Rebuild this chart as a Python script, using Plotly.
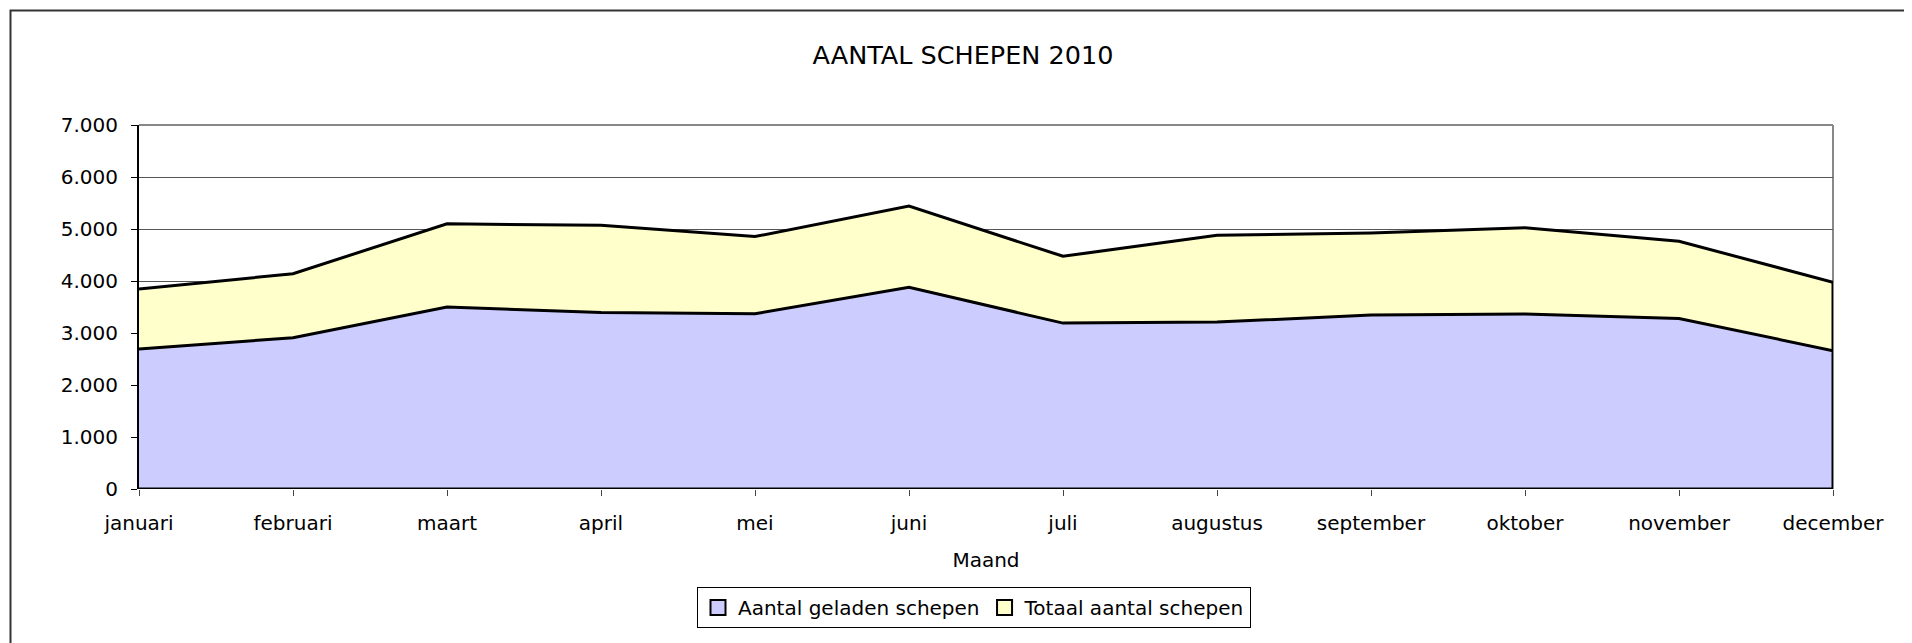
import plotly.graph_objects as go

months = ["januari", "februari", "maart", "april", "mei", "juni", "juli",
          "augustus", "september", "oktober", "november", "december"]
loaded = [2690, 2910, 3500, 3395, 3370, 3880, 3190, 3210, 3345, 3365, 3280, 2660]
total = [3845, 4140, 5100, 5070, 4855, 5440, 4475, 4880, 4925, 5025, 4765, 3975]
series_names = ["Aantal geladen schepen", "Totaal aantal schepen"]
colors = ["#CCCCFF", "#FFFFCC"]
y_ticks = [0, 1000, 2000, 3000, 4000, 5000, 6000, 7000]

# the page body has an 8px margin; work in page pixels and convert
OFF = 8
PAGE_W, PAGE_H = 1912, 643
W, H = PAGE_W - OFF, PAGE_H - OFF
PL, PR, PT, PB = 139, 1833, 125, 489   # plot area in page pixels
L, T = PL - OFF, PT - OFF
R, B = W - (PR - OFF), H - (PB - OFF)
PW, PH = PR - PL, PB - PT

def px_to_paper_x(px):
    return (px - PL) / PW

def px_to_paper_y(py):
    return (PB - py) / PH

FONT = "DejaVu Sans"

fig = go.Figure()

poly_x = months + [months[-1], months[0]]
fig.add_trace(go.Scatter(
    x=poly_x, y=total + [0, 0], fill="toself", fillcolor=colors[1],
    mode="lines", line=dict(color="black", width=3), showlegend=False,
    hoverinfo="skip"))
fig.add_trace(go.Scatter(
    x=poly_x, y=loaded + [0, 0], fill="toself", fillcolor=colors[0],
    mode="lines", line=dict(color="black", width=3), showlegend=False,
    hoverinfo="skip"))

for name, c in zip(series_names, colors):
    fig.add_trace(go.Scatter(
        x=[None], y=[None], mode="markers", name=name,
        marker=dict(symbol="square", size=15, color=c,
                    line=dict(color="black", width=2))))

shapes = [
    dict(type="line", xref="paper", yref="paper", x0=0, x1=1, y0=1, y1=1,
         line=dict(color="#888888", width=2), layer="below"),
    dict(type="line", xref="paper", yref="paper", x0=1, x1=1, y0=0, y1=1,
         line=dict(color="#888888", width=2), layer="below"),
    dict(type="path", xref="paper", yref="paper",
         path="M {a},{b} L {c},{b} L {c},{d}".format(
             a=px_to_paper_x(PAGE_W + 30), b=px_to_paper_y(10.5),
             c=px_to_paper_x(10.5), d=px_to_paper_y(PAGE_H + 30)),
         line=dict(color="#333333", width=2)),
]

fig.update_layout(
    width=W, height=H,
    margin=dict(l=L, r=R, t=T, b=B, pad=0),
    paper_bgcolor="white", plot_bgcolor="white",
    font=dict(family=FONT, size=20, color="black"),
    separators=",.",
    title=dict(text="AANTAL SCHEPEN 2010", x=(963 - OFF) / W, xanchor="center",
               y=1 - (55.5 - OFF) / H, yanchor="middle",
               font=dict(family=FONT, size=25.5, color="black")),
    xaxis=dict(
        type="category", categoryorder="array", categoryarray=months,
        range=[0, len(months) - 1], showgrid=False, zeroline=False,
        showline=False, ticks="outside", ticklen=6, tickcolor="#444444",
        tickwidth=1, ticklabelstandoff=10,
        tickfont=dict(family=FONT, size=20, color="black"),
        title=dict(text="Maand", standoff=18,
                   font=dict(family=FONT, size=20, color="black")),
    ),
    yaxis=dict(
        range=[0, 7000], tickvals=y_ticks, tickformat=",.0f",
        showgrid=True, gridcolor="#555555", gridwidth=1, zeroline=False,
        showline=True, linecolor="black", linewidth=2,
        ticks="outside", ticklen=6, tickcolor="black", tickwidth=1,
        ticklabelstandoff=9,
        tickfont=dict(family=FONT, size=20, color="black"),
    ),
    legend=dict(
        orientation="h", x=px_to_paper_x(974), xanchor="center",
        y=px_to_paper_y(607.5), yanchor="middle",
        bordercolor="black", borderwidth=1, bgcolor="white",
        font=dict(family=FONT, size=20, color="black"),
        itemwidth=30,
    ),
    shapes=shapes,
    showlegend=True,
)

fig.write_html("out.html")
